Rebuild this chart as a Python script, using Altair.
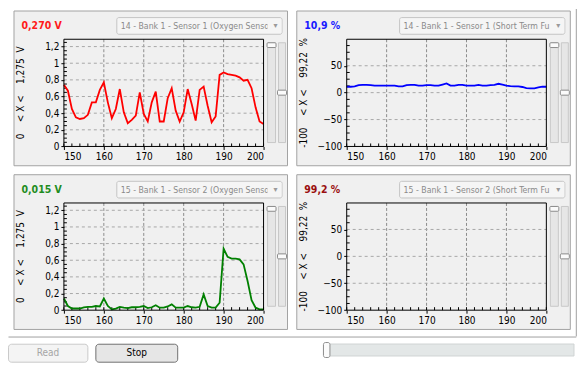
import altair as alt
import pandas as pd

# ---------------- data ----------------
T = list(range(150, 201))

RED = [0.74, 0.67, 0.45, 0.35, 0.33, 0.34, 0.38, 0.53, 0.53, 0.68,
       0.77, 0.53, 0.34, 0.45, 0.69, 0.41, 0.28, 0.32, 0.37, 0.65,
       0.39, 0.30, 0.53, 0.66, 0.30, 0.30, 0.58, 0.70, 0.43, 0.30,
       0.41, 0.69, 0.51, 0.31, 0.68, 0.72, 0.49, 0.29, 0.36, 0.86,
       0.89, 0.87, 0.86, 0.85, 0.83, 0.79, 0.80, 0.70, 0.47, 0.30,
       0.27]

BLUE = [11, 11, 11.5, 14, 14.5, 14.5, 14, 13, 13, 13,
        13, 13, 13, 11.5, 11.5, 14, 14.5, 14.5, 13, 13,
        14, 14, 13, 13, 15, 17, 13, 13, 14.5, 14.5,
        13, 13, 13, 14.5, 13, 13, 14, 14.5, 16.5, 15,
        13, 12, 11.5, 11.5, 10.5, 8.5, 8, 8, 10, 11,
        11]

GREEN = [0.14, 0.05, 0.02, 0.02, 0.02, 0.035, 0.04, 0.04, 0.05, 0.045,
         0.14, 0.05, 0.01, 0.02, 0.04, 0.03, 0.025, 0.035, 0.035, 0.04,
         0.05, 0.025, 0.035, 0.06, 0.03, 0.03, 0.045, 0.07, 0.03, 0.03,
         0.03, 0.05, 0.035, 0.03, 0.04, 0.19, 0.05, 0.03, 0.03, 0.09,
         0.74, 0.64, 0.62, 0.62, 0.61, 0.55, 0.35, 0.12, 0.03, 0.01,
         0.01]

X_TICKS = [150, 160, 170, 180, 190, 200]
X_GRID = [160, 170, 180, 190]
X_MINOR = list(range(150, 201, 2))

V_TICKS = [0, 0.2, 0.4, 0.6, 0.8, 1.0, 1.2]
V_GRID = [0.2, 0.4, 0.6, 0.8, 1.0, 1.2]
V_MINOR = [0.05, 0.1, 0.15, 0.25, 0.3, 0.35, 0.45, 0.5, 0.55, 0.65, 0.7,
           0.75, 0.85, 0.9, 0.95, 1.05, 1.1, 1.15, 1.25]
V_DOMAIN = [0, 1.288]

P_TICKS = [-100, -50, 0, 50]
P_GRID = [-50, 0, 50]
P_MINOR = [-87.5, -75, -62.5, -37.5, -25, -12.5, 12.5, 25, 37.5, 62.5, 75, 87.5]
P_DOMAIN = [-100, 99.22]

NB = "\u00a0"
VALUE_LABELS = ["0,270 V", "10,9 %", "0,015 V", "99,2 %"]
VALUE_COLORS = ["#ff1a1a", "#1a1aff", "#1e8c1e", "#9a0f0f"]
LINE_COLORS = ["#ff0000", "#0000ff", "#008000", "#8b0000"]
TITLE_V = "0" + NB * 4 + "<" + NB + "X" + NB + "<" + NB * 4 + "1,275" + NB * 2 + "V"
TITLE_P = "-100" + NB * 4 + "<" + NB + "X" + NB + "<" + NB * 4 + "99,22" + NB * 2 + "%"
Y_TITLES = [TITLE_V, TITLE_P, TITLE_V, TITLE_P]
COMBOS = ["14 - Bank 1 - Sensor 1 (Oxygen Senso",
          "14 - Bank 1 - Sensor 1 (Short Term Fu",
          "15 - Bank 1 - Sensor 2 (Oxygen Senso",
          "15 - Bank 1 - Sensor 2 (Short Term Fu"]

# ---------------- styling ----------------
FONT = "Liberation Sans Narrow, DejaVu Sans Condensed, Liberation Sans, sans-serif"
W, H = 200, 107.4
one = pd.DataFrame({"k": [0]})


def box(x1, x2, y1, y2, **kw):
    return alt.Chart(one).mark_rect(**kw).encode(
        x=alt.value(x1), x2=alt.value(x2), y=alt.value(y1), y2=alt.value(y2))


def label(txt, x, y, **kw):
    return alt.Chart(one).mark_text(font=FONT, **kw).encode(
        x=alt.value(x), y=alt.value(y), text=alt.value(txt))


def hline(x1, x2, y, **kw):
    return alt.Chart(one).mark_rule(**kw).encode(
        x=alt.value(x1), x2=alt.value(x2), y=alt.value(y))


def vline(x, y1, y2, **kw):
    return alt.Chart(one).mark_rule(**kw).encode(
        x=alt.value(x), y=alt.value(y1), y2=alt.value(y2))


def panel(i, series, ydom, yticks, ygrid, yminor):
    xs = alt.Scale(domain=[150, 200], nice=False, zero=False)
    ys = alt.Scale(domain=ydom, nice=False, zero=False)
    xaxis = alt.Axis(values=X_TICKS, grid=False, domain=False, tickSize=3,
                     tickColor="#000000", labelFont=FONT, labelFontSize=10,
                     labelColor="#000000", labelPadding=2, title=None,
                     format="d", zindex=1)
    yaxis = alt.Axis(values=yticks, grid=False, domain=False, tickSize=3,
                     tickColor="#000000", labelFont=FONT, labelFontSize=10,
                     labelColor="#000000", labelPadding=2, title=None,
                     labelExpr="replace(format(datum.value, '~g'), '.', ',')",
                     zindex=1)
    xenc = alt.X("t:Q", scale=xs, axis=xaxis)
    yenc = alt.Y("v:Q", scale=ys, axis=yaxis)

    layers = []
    # panel background
    layers.append(box(-50, 224, -28.3, 126.7, fill="#f0f0f0",
                      stroke="#a3a3a3", strokeWidth=1))
    # grid lines
    layers.append(alt.Chart(pd.DataFrame({"t": X_GRID})).mark_rule(
        color="#8c8c8c", strokeDash=[3, 2], strokeWidth=1).encode(
        x=xenc, y=alt.value(0), y2=alt.value(H)))
    layers.append(alt.Chart(pd.DataFrame({"v": ygrid})).mark_rule(
        color="#a8a8a8", strokeDash=[3, 3], strokeWidth=1).encode(
        y=yenc, x=alt.value(0), x2=alt.value(W)))
    # minor ticks (inside)
    layers.append(alt.Chart(pd.DataFrame({"t": X_MINOR})).mark_rule(
        color="#000000", strokeWidth=1).encode(
        x=xenc, y=alt.value(H - 3), y2=alt.value(H)))
    layers.append(alt.Chart(pd.DataFrame({"v": yminor})).mark_rule(
        color="#000000", strokeWidth=1).encode(
        y=yenc, x=alt.value(0), x2=alt.value(3)))
    # data line
    if series is not None:
        df = pd.DataFrame({"t": T, "v": series})
        layers.append(alt.Chart(df).mark_line(
            color=LINE_COLORS[i], strokeWidth=1.8).encode(x=xenc, y=yenc))
    # plot frame
    layers.append(box(0, W, 0, H, fill="#ffffff", fillOpacity=0,
                      stroke="#000000", strokeWidth=1))
    # value label
    layers.append(label(VALUE_LABELS[i], -42.5, -13.3, fontSize=10.5,
                        fontWeight="bold", color=VALUE_COLORS[i],
                        align="left", baseline="middle"))
    # combo box
    layers.append(box(53, 218.5, -21.7, -5, fill="#f5f5f5",
                      stroke="#c4c4c4", strokeWidth=1, cornerRadius=2))
    layers.append(label(COMBOS[i], 57, -13.3, fontSize=8.7, color="#8a8a8a",
                        align="left", baseline="middle"))
    layers.append(box(204, 218, -20, -6.5, fill="#f5f5f5"))
    layers.append(alt.Chart(one).mark_text(
        font="DejaVu Sans", fontSize=8, color="#9a9a9a",
        align="center", baseline="middle").encode(
        x=alt.value(212), y=alt.value(-13.3), text=alt.value("\u25be")))
    # y title (rotated)
    layers.append(label(Y_TITLES[i], -43, H / 2, fontSize=10,
                        color="#000000", angle=270, align="center",
                        baseline="middle"))
    # sliders
    layers.append(box(204, 212, 3.5, 103.5, fill="#e6e6e6",
                      stroke="#c8c8c8", strokeWidth=1))
    layers.append(box(215, 222, 3.5, 103.5, fill="#e6e6e6",
                      stroke="#c8c8c8", strokeWidth=1))
    layers.append(box(203.5, 212.5, 3.5, 8.3, fill="#fbfbfb",
                      stroke="#8c8c8c", strokeWidth=1, cornerRadius=1))
    layers.append(box(214, 223, 51, 56, fill="#fbfbfb",
                      stroke="#8c8c8c", strokeWidth=1, cornerRadius=1))

    if i == 0:
        # invisible anchor fixing the chart's top-left corner
        layers.append(box(-56, -54, -30.3, -28.5, fill="#ffffff",
                          fillOpacity=0))
    if i == 1:
        # right border of the surrounding frame
        layers.append(vline(230, -30.3, 297.7, color="#a0a0a0",
                            strokeWidth=1))
    if i == 2:
        # bottom border of frame
        layers.append(hline(-55.5, 513.3, 134.3, color="#a0a0a0",
                            strokeWidth=1))
        # buttons
        layers.append(box(-55.5, 24, 141.5, 159.5, fill="#f4f4f4",
                          stroke="#cacaca", strokeWidth=1, cornerRadius=3))
        layers.append(label("Read", -16, 150.5, fontSize=10,
                            color="#a6a6a6", align="center",
                            baseline="middle"))
        layers.append(box(32, 114, 141.5, 159.5, fill="#e6e6e6",
                          stroke="#707070", strokeWidth=1, cornerRadius=3))
        layers.append(label("Stop", 73, 150.5, fontSize=10,
                            color="#000000", align="center",
                            baseline="middle"))
        # horizontal slider
        layers.append(box(264, 511, 141.3, 153.3, fill="#e3e7e7",
                          stroke="#d0d4d4", strokeWidth=1))
        layers.append(box(260, 266.5, 139.8, 154.8, fill="#fbfbfb",
                          stroke="#8c8c8c", strokeWidth=1, cornerRadius=2))

    return alt.layer(*layers).properties(width=W, height=H)


p1 = panel(0, RED, V_DOMAIN, V_TICKS, V_GRID, V_MINOR)
p2 = panel(1, BLUE, P_DOMAIN, P_TICKS, P_GRID, P_MINOR)
p3 = panel(2, GREEN, V_DOMAIN, V_TICKS, V_GRID, V_MINOR)
p4 = panel(3, None, P_DOMAIN, P_TICKS, P_GRID, P_MINOR)

chart = alt.concat(
    p1, p2, p3, p4, columns=2,
    spacing={"row": 56, "column": 83.3},
    bounds="flush",
).properties(padding=0, background="#ffffff").configure_view(strokeWidth=0)

chart.save("out.html", embed_options={"renderer": "svg", "actions": False})
